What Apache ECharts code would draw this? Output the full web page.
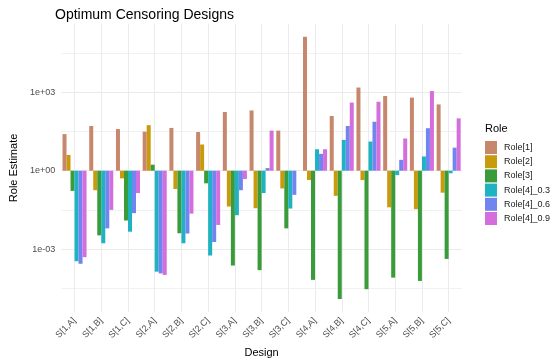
<!DOCTYPE html>
<html>
<head>
<meta charset="utf-8">
<script src="https://cdn.jsdelivr.net/npm/echarts@6/dist/echarts.min.js"></script>
<style>html,body{margin:0;padding:0;background:#fff}#c{width:550px;height:363px}</style>
</head>
<body>
<div id="c"></div>
<script>
const categories = ['S[1,A]','S[1,B]','S[1,C]','S[2,A]','S[2,B]','S[2,C]','S[3,A]','S[3,B]','S[3,C]','S[4,A]','S[4,B]','S[4,C]','S[5,A]','S[5,B]','S[5,C]'];
const role1  = [25, 51, 39, 31, 43, 30, 174, 200, 34, 130000, 123, 1500, 710, 620, 340];
const role2  = [4, 0.18, 0.51, 55, 0.2, 10, 0.043, 0.037, 0.21, 0.44, 0.11, 0.44, 0.04, 0.034, 0.145];
const role3  = [0.17, 0.0034, 0.0126, 1.7, 0.0041, 0.33, 0.00024, 0.00016, 0.0063, 0.000068, 0.0000126, 0.00003, 0.000083, 0.000062, 0.00043];
const role4_03 = [0.00035, 0.0017, 0.0047, 0.00014, 0.0017, 0.00058, 0.02, 0.14, 0.036, 6.6, 15, 13, 0.68, 3.5, 0.8];
const role4_06 = [0.00028, 0.0063, 0.024, 0.00012, 0.004, 0.0019, 0.18, 1.26, 0.12, 4.4, 51, 74, 2.6, 42, 7.6];
const role4_09 = [0.0005, 0.032, 0.14, 0.000105, 0.023, 0.0085, 0.48, 34, 1, 6.6, 400, 430, 17, 1100, 100];
const seriesNames = ['Role[1]','Role[2]','Role[3]','Role[4]_0.3','Role[4]_0.6','Role[4]_0.9'];
const seriesData = [role1, role2, role3, role4_03, role4_06, role4_09];
const colors = ['#C6876C','#C89A0C','#3A9B3A','#1FB2C2','#7085F0','#D56EDD'];
const yTickValues = [0.001, 1, 1000];
const yTickLabels = ['1e-03', '1e+00', '1e+03'];
const yMinorValues = [0.0000316, 0.0316, 31.6, 31600];
const yMin = 0.000004, yMax = 410000;

const chart = echarts.init(document.getElementById('c'), null, {renderer: 'canvas'});
const font = 'Liberation Sans, Arial, sans-serif';
chart.setOption({
  animation: false,
  color: colors,
  title: [
    {text: 'Optimum Censoring Designs', left: 50, top: 3, textStyle: {fontSize: 14, fontWeight: 'normal', color: '#000', fontFamily: font}},
    {text: 'Role', left: 480, top: 118, textStyle: {fontSize: 11, fontWeight: 'normal', color: '#000', fontFamily: font}}
  ],
  legend: {
    orient: 'vertical', left: 480, top: 136,
    itemWidth: 12, itemHeight: 13, itemGap: 1.2,
    icon: 'rect',
    data: seriesNames,
    textStyle: {fontSize: 9, color: '#1a1a1a', fontFamily: font, padding: [0, 0, 0, 2]}
  },
  grid: {left: 54, right: 88, top: 23.7, bottom: 50.8, containLabel: false},
  xAxis: {
    type: 'category', data: categories, boundaryGap: true,
    name: 'Design', nameLocation: 'middle', nameGap: 34,
    nameTextStyle: {fontSize: 11, color: '#000', fontFamily: font},
    axisLine: {show: false}, axisTick: {show: false},
    axisLabel: {rotate: 45, fontSize: 9, color: '#4d4d4d', margin: 7, fontFamily: font, interval: 0},
    splitLine: {show: true, alignWithLabel: true, lineStyle: {color: '#EBEBEB', width: 1}}
  },
  yAxis: [
    {
      type: 'log', min: yMin, max: yMax,
      name: 'Role Estimate', nameLocation: 'middle', nameGap: 37,
      nameTextStyle: {fontSize: 11, color: '#000', fontFamily: font},
      axisLine: {show: false},
      axisTick: {show: false, customValues: yTickValues},
      axisLabel: {customValues: yTickValues, fontSize: 9, color: '#4d4d4d', margin: 6, fontFamily: font,
        formatter: v => { const i = yTickValues.findIndex(t => Math.abs(Math.log10(t) - Math.log10(v)) < 1e-6); return i >= 0 ? yTickLabels[i] : ''; }},
      splitLine: {show: true, lineStyle: {color: '#EBEBEB', width: 1}}
    },
    {
      type: 'log', min: yMin, max: yMax, position: 'left',
      axisLine: {show: false},
      axisTick: {show: false, customValues: yMinorValues},
      axisLabel: {show: false, customValues: yMinorValues},
      splitLine: {show: true, lineStyle: {color: '#EEEEEE', width: 0.8}}
    }
  ],
  series: seriesNames.map((n, i) => ({
    name: n, type: 'bar', data: seriesData[i], yAxisIndex: 0,
    barGap: '0%', barCategoryGap: '10%',
    itemStyle: {color: colors[i]}
  }))
});
</script>
</body>
</html>
